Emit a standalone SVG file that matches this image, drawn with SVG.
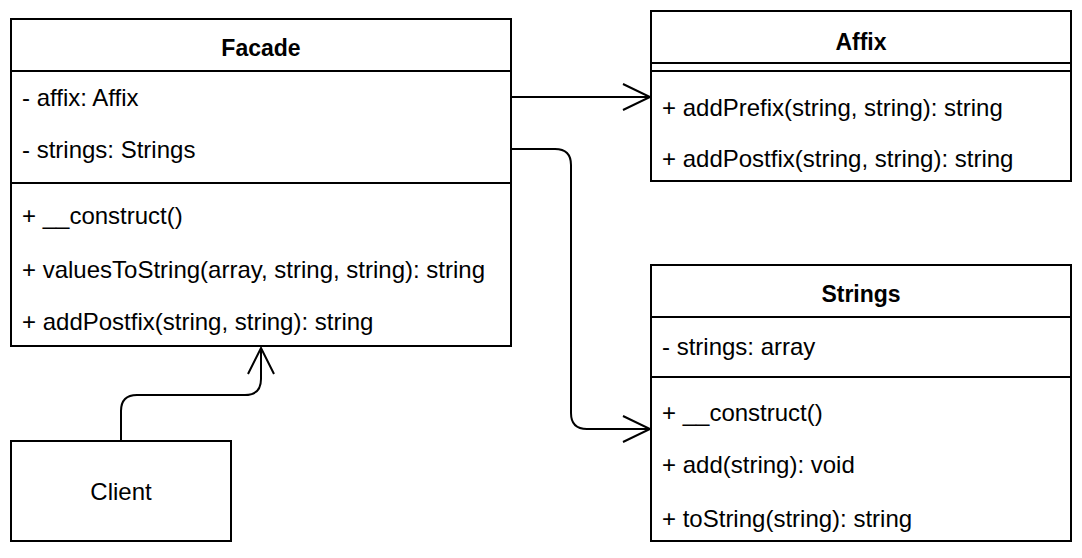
<svg xmlns="http://www.w3.org/2000/svg" width="1082" height="558" viewBox="0 0 1082 558">
<style>
.box{fill:#ffffff;stroke:#000000;stroke-width:2}
.sep{stroke:#000000;stroke-width:2;fill:none}
.t{font-family:"Liberation Sans",Arial,sans-serif;font-size:24px;fill:#000000}
.b{font-family:"Liberation Sans",Arial,sans-serif;font-size:23px;font-weight:bold;fill:#000000;text-anchor:middle}
.c{text-anchor:middle}
.edge{fill:none;stroke:#000000;stroke-width:2}
</style>
<rect width="1082" height="558" fill="#ffffff"/>
<g id="connectors">
<path class="edge" d="M511 97 H650"/>
<path class="edge" d="M623 84 L650 97 L623 110"/>
<path class="edge" d="M511 149 H555 Q571 149 571 165 V413 Q571 429 587 429 H650"/>
<path class="edge" d="M623 416 L650 429 L623 442"/>
<path class="edge" d="M121 441 V411 Q121 395 137 395 H245 Q261 395 261 379 V348"/>
<path class="edge" d="M248 374 L261 348 L274 374"/>
</g>
<g id="facade">
<rect class="box" x="11" y="19" width="500" height="327"/>
<line class="sep" x1="11" y1="71" x2="511" y2="71"/>
<line class="sep" x1="11" y1="183" x2="511" y2="183"/>
<text class="b" x="261" y="56">Facade</text>
<text class="t" x="22" y="106">- affix: Affix</text>
<text class="t" x="22" y="158">- strings: Strings</text>
<text class="t" x="22" y="224">+ __construct()</text>
<text class="t" x="22" y="278">+ valuesToString(array, string, string): string</text>
<text class="t" x="22" y="330">+ addPostfix(string, string): string</text>
</g>
<g id="affix">
<rect class="box" x="651" y="11" width="420" height="170"/>
<line class="sep" x1="651" y1="63" x2="1071" y2="63"/>
<line class="sep" x1="651" y1="71" x2="1071" y2="71"/>
<text class="b" x="861" y="50">Affix</text>
<text class="t" x="662" y="116">+ addPrefix(string, string): string</text>
<text class="t" x="662" y="167">+ addPostfix(string, string): string</text>
</g>
<g id="strings">
<rect class="box" x="651" y="265" width="420" height="276"/>
<line class="sep" x1="651" y1="317" x2="1071" y2="317"/>
<line class="sep" x1="651" y1="377" x2="1071" y2="377"/>
<text class="b" x="861" y="302">Strings</text>
<text class="t" x="662" y="355">- strings: array</text>
<text class="t" x="662" y="421">+ __construct()</text>
<text class="t" x="662" y="473">+ add(string): void</text>
<text class="t" x="662" y="527">+ toString(string): string</text>
</g>
<g id="client">
<rect class="box" x="11" y="441" width="220" height="100"/>
<text class="t c" x="121" y="500">Client</text>
</g>
</svg>
